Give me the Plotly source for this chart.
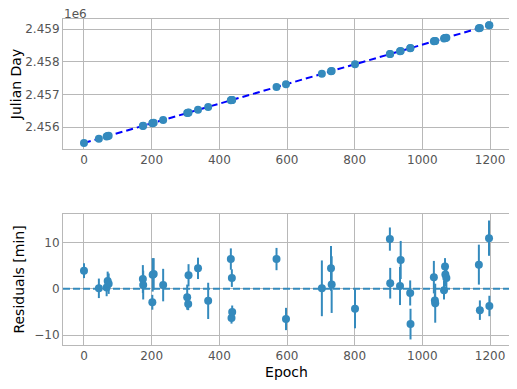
import numpy as np
import plotly.graph_objects as go
from plotly.subplots import make_subplots

# epochs of the observed transits
epoch = [0, 44, 67, 70, 73, 174, 175, 202, 203, 206, 234, 305, 308, 309, 337, 367,
         434, 436, 437, 438, 569, 597, 703, 730, 732, 801, 904, 905, 934, 936, 964,
         965, 1034, 1037, 1038, 1064, 1067, 1068, 1071, 1167, 1170, 1197, 1198]

# observed mid-transit times (JD)
jd = [2455511.00, 2455643.40, 2455712.62, 2455721.64, 2455730.67, 2456034.60,
      2456037.61, 2456118.86, 2456121.87, 2456130.90, 2456215.15, 2456428.81,
      2456437.83, 2456440.84, 2456525.10, 2456615.38, 2456817.00, 2456823.01,
      2456826.02, 2456829.03, 2457223.23, 2457307.49, 2457626.47, 2457707.72,
      2457713.73, 2457921.37, 2458231.32, 2458234.33, 2458321.59, 2458327.61,
      2458411.87, 2458414.88, 2458622.51, 2458631.54, 2458634.55, 2458712.79,
      2458721.82, 2458724.83, 2458733.85, 2459022.74, 2459031.76, 2459113.01,
      2459116.02]

# O-C residuals in minutes and their errors
resid = [3.9, 0.1, 0.3, 1.7, 1.1, 2.1, 0.8, -2.9, 3.0, 3.2, 0.8, -1.8, -3.3, 2.9,
         4.4, -2.6, 6.4, -6.3, 2.3, -5.0, 6.4, -6.5, 0.1, 4.4, 0.9, -4.3, 10.7,
         1.2, 0.6, 6.2, -0.9, -7.6, 2.5, -2.5, -3.1, -0.3, 4.8, 3.1, 2.3, 5.2,
         -4.6, 10.9, -3.7]
resid_err = [1.6, 2.1, 1.9, 2.0, 2.2, 3.0, 3.1, 1.6, 3.6, 3.4, 3.5, 2.7, 1.3, 2.4,
             2.3, 3.9, 2.3, 1.2, 1.9, 1.4, 2.4, 2.4, 6.0, 4.8, 6.1, 4.2, 2.5, 3.3,
             4.1, 4.1, 2.7, 3.3, 3.5, 1.5, 4.2, 2.0, 1.8, 2.5, 2.3, 4.3, 2.1, 3.8,
             2.2]

jd_ticks = [2456000, 2457000, 2458000, 2459000]
jd_labels = ["2.456", "2.457", "2.458", "2.459"]
epoch_ticks = [0, 200, 400, 600, 800, 1000, 1200]

# linear ephemeris fit
P, T0 = np.polyfit(epoch, jd, 1)
fit_x = np.array([min(epoch), max(epoch)])
fit_y = T0 + P * fit_x

blue = "#348ABD"
grid = "#b8b8b8"
font = "DejaVu Sans"

# page body adds 8px margin, so the figure is 8px smaller and domains shifted
W, H = 509, 381
xdom = [55 / W, 502 / W]
ydom_top = [1 - 141 / H, 1 - 11 / H]
ydom_bot = [1 - 337 / H, 1 - 206 / H]

fig = make_subplots(rows=2, cols=1)
fig.add_trace(go.Scatter(x=fit_x, y=fit_y, mode="lines",
                         line=dict(color="#0000ff", width=2, dash="7px,4px")), row=1, col=1)
fig.add_trace(go.Scatter(x=epoch, y=jd, mode="markers",
                         marker=dict(color=blue, size=8)), row=1, col=1)
fig.add_trace(go.Scatter(x=epoch, y=resid, mode="markers",
                         marker=dict(color=blue, size=8),
                         error_y=dict(type="data", array=resid_err, color=blue,
                                      thickness=2, width=0)), row=2, col=1)

fig.add_shape(type="line", xref="x2 domain", yref="y2", x0=0, x1=1, y0=0, y1=0,
              line=dict(color=blue, width=2, dash="7px,3px"))

axis_style = dict(showgrid=True, gridcolor=grid, gridwidth=1, showline=True,
                  linecolor=grid, linewidth=1, mirror=True, zeroline=False,
                  ticks="", automargin=False,
                  tickfont=dict(family=font, size=12, color="#555555"))

fig.update_xaxes(**axis_style, range=[-62, 1259], tickvals=epoch_ticks)
fig.update_yaxes(**axis_style)
fig.update_xaxes(domain=xdom, row=1, col=1)
fig.update_xaxes(domain=xdom, row=2, col=1,
                 title=dict(text="Epoch", font=dict(family=font, size=14, color="black"),
                            standoff=4))
fig.update_yaxes(domain=ydom_top, row=1, col=1, range=[2455327, 2459306],
                 tickvals=jd_ticks, ticktext=jd_labels,
                 title=dict(text="Julian Day", font=dict(family=font, size=14, color="black"),
                            standoff=6))
fig.update_yaxes(domain=ydom_bot, row=2, col=1, range=[-12.1, 16.1],
                 tickvals=[-10, 0, 10], ticktext=["\u221210", "0", "10"],
                 title=dict(text="Residuals [min]", font=dict(family=font, size=14, color="black"),
                            standoff=6))

fig.add_annotation(text="1e6", xref="paper", yref="paper", x=xdom[0], y=1,
                   xanchor="left", yanchor="top", yshift=2, borderpad=0, showarrow=False,
                   font=dict(family=font, size=12, color="#555555"))

fig.update_layout(width=W, height=H, margin=dict(l=0, r=0, t=0, b=0),
                  plot_bgcolor="white", paper_bgcolor="white", showlegend=False)

fig.write_html("out.html")
